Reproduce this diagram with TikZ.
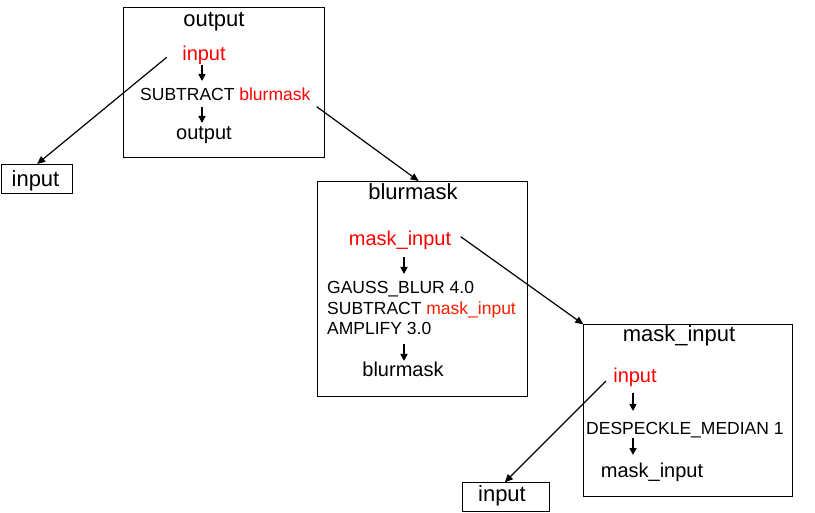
\documentclass[tikz,border=0pt]{standalone}
\usepackage{fontspec}
\setmainfont{Liberation Sans}
\usetikzlibrary{arrows.meta}
\definecolor{namered}{RGB}{255,0,0}
\definecolor{inred}{RGB}{250,30,0}
\begin{document}
\begin{tikzpicture}[x=1pt,y=-1pt,
  box/.style={draw=black,line width=0.9pt,rectangle,inner sep=0pt,anchor=north west},
  ttl/.style={inner sep=0pt,anchor=base,font=\fontsize{22}{26}\selectfont},
  nm/.style={inner sep=0pt,anchor=base,font=\fontsize{20}{24}\selectfont},
  opl/.style={inner sep=0pt,anchor=base west,font=\fontsize{17.5}{20}\selectfont},
  link/.style={draw=black,line width=1.2pt,-{Triangle[length=8pt,width=7pt]}},
  flow/.style={draw=black,line width=1.6pt,-{Triangle[length=7pt,width=7pt]}}]
\useasboundingbox (0,0) rectangle (815,513);
% boxes
\node[box,minimum width=200.7pt,minimum height=149.4pt] (outbox) at (123.3,7.3) {};
\node[box,minimum width=209.7pt,minimum height=215pt] (blurbox) at (317.3,181) {};
\node[box,minimum width=208.7pt,minimum height=171.7pt] (maskbox) at (583.3,324.3) {};
\node[box,minimum width=71pt,minimum height=29.3pt] (inbox1) at (1.2,164) {};
\node[box,minimum width=87.3pt,minimum height=28.7pt] (inbox2) at (461.7,482.3) {};
% output box
\node[ttl] (t1) at (214,26.7) {output};
\node[nm,text=namered] (in1) at (204,60.5) {input};
\node[opl] (op1) at (140,100.7) {SUBTRACT \textcolor{namered}{blurmask}};
\node[nm] (o1) at (204,139.3) {output};
\coordinate (a1s) at (202,65); \coordinate (a1e) at (202,81);
\coordinate (a2s) at (202,107); \coordinate (a2e) at (202,123);
\draw[flow] (a1s) -- (a1e);
\draw[flow] (a2s) -- (a2e);
% blurmask box
\node[ttl] (t2) at (413,200) {blurmask};
\node[nm,text=namered] (in2) at (400,246) {mask\_input};
\node[opl] (op2a) at (327,294) {GAUSS\_BLUR 4.0};
\node[opl] (op2b) at (327,315) {SUBTRACT \textcolor{inred}{mask\_input}};
\node[opl] (op2c) at (327,335) {AMPLIFY 3.0};
\node[nm] (o2) at (403,377) {blurmask};
\coordinate (b1s) at (404,257); \coordinate (b1e) at (404,274);
\coordinate (b2s) at (404,344); \coordinate (b2e) at (404,361);
\draw[flow] (b1s) -- (b1e);
\draw[flow] (b2s) -- (b2e);
% mask_input box
\node[ttl] (t3) at (679,342) {mask\_input};
\node[nm,text=namered] (in3) at (635,383) {input};
\node[opl] (op3) at (586,435) {DESPECKLE\_MEDIAN 1};
\node[nm] (o3) at (652,477) {mask\_input};
\coordinate (m1s) at (633,393); \coordinate (m1e) at (633,411);
\coordinate (m2s) at (633,438); \coordinate (m2e) at (633,455);
\draw[flow] (m1s) -- (m1e);
\draw[flow] (m2s) -- (m2e);
% input boxes labels
\node[ttl] (il1) at (35.5,186.7) {input};
\node[ttl] (il2) at (502,501.7) {input};
% links
\coordinate (c1) at (166.7,57.3);
\coordinate (c2) at (316.7,106.7);
\coordinate (c3) at (460.7,236.7);
\coordinate (c4) at (606,381);
\draw[link] (c1) -- (inbox1.north);
\draw[link] (c2) -- ([xshift=-4pt]blurbox.north);
\draw[link] (c3) -- (maskbox.north west);
\draw[link] (c4) -- ([xshift=-1pt]inbox2.north);
\end{tikzpicture}
\end{document}
